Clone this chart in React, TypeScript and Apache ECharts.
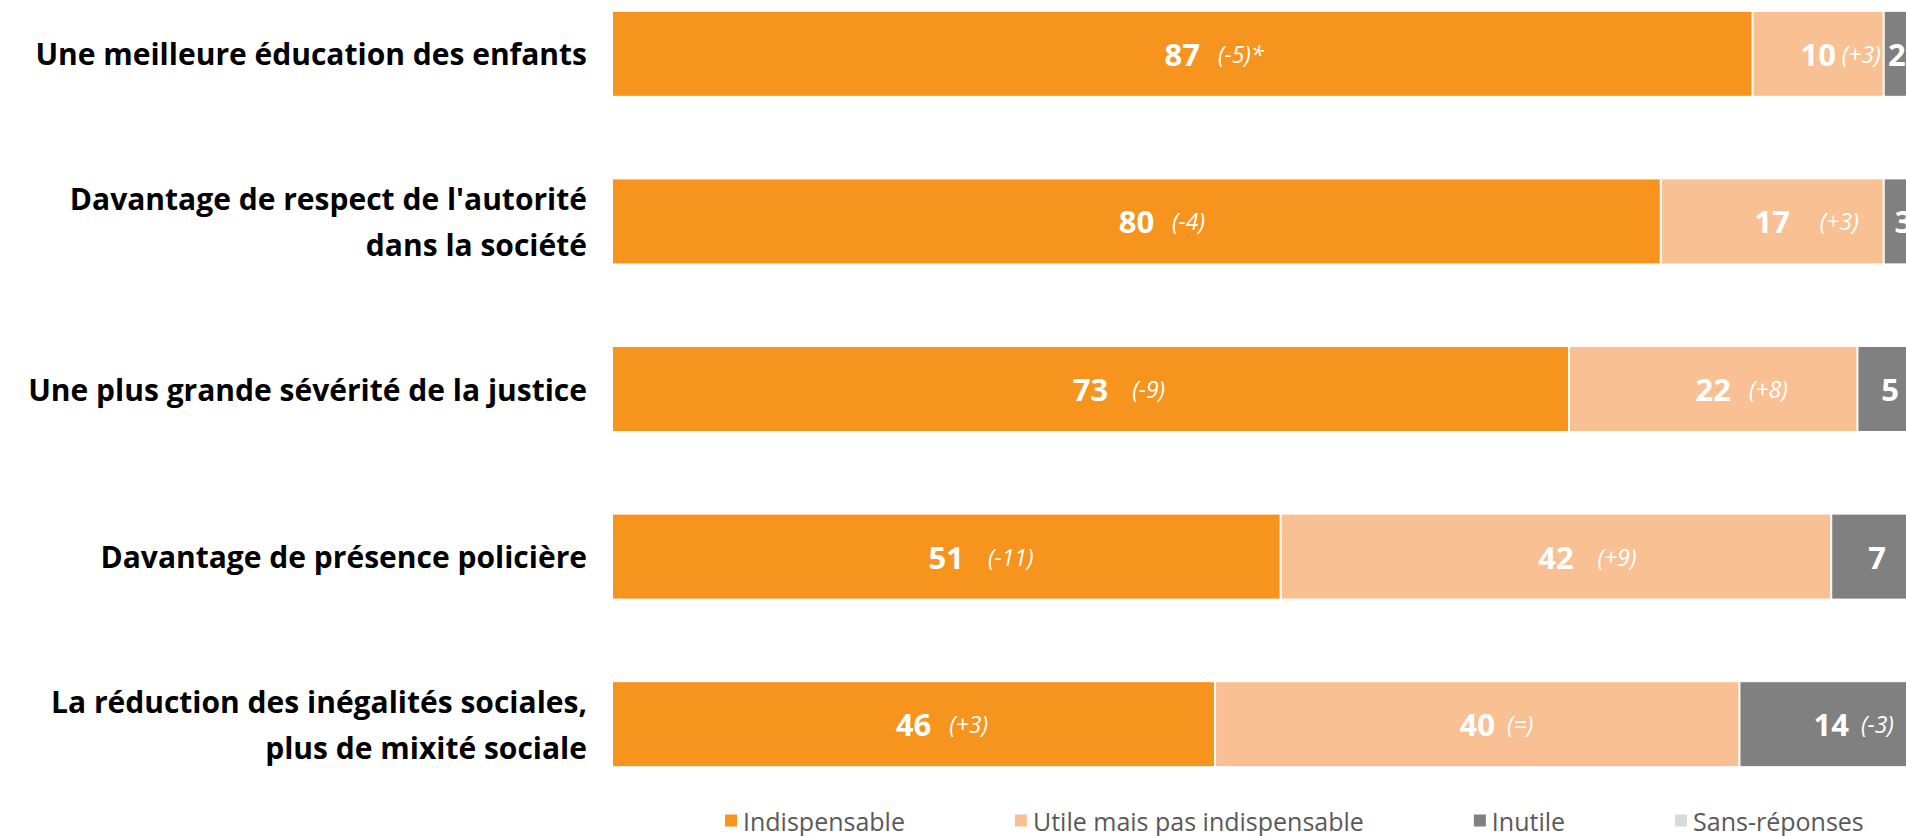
import React, { useEffect, useRef } from "react";
import * as echarts from "echarts";

const categories = [
  "Une meilleure éducation des enfants",
  "Davantage de respect de l'autorité\ndans la société",
  "Une plus grande sévérité de la justice",
  "Davantage de présence policière",
  "La réduction des inégalités sociales,\nplus de mixité sociale",
];
const seriesNames = ["Indispensable", "Utile mais pas indispensable", "Inutile", "Sans-réponses"];
const indispensable = [87, 80, 73, 51, 46];
const utile = [10, 17, 22, 42, 40];
const inutile = [2, 3, 5, 7, 14];
const sansReponses = [1, 0, 0, 0, 0];
const deltaIndispensable = ["(-5)*", "(-4)", "(-9)", "(-11)", "(+3)"];
const deltaUtile = ["(+3)", "(+3)", "(+8)", "(+9)", "(=)"];
const deltaInutile = ["", "", "", "", "(-3)"];

const colors = ["#F7941D", "#F9C193", "#808080", "#D9D9D9"];
const FONT = "'Open Sans', 'Noto Sans', sans-serif";
const W = 80;
// spaces between value and change, per series and row (style only)
const spacing = [
  [3, 3, 4, 4, 3],
  [1, 5, 3, 4, 2],
  [2, 2, 2, 2, 2],
];

// inner chart extends past the right edge and above the top of the visible page
const OFF_TOP = 30;
const OFF_RIGHT = 17;

function makeLabel(deltas: string[], sp: number[]) {
  return {
    show: true,
    position: "inside",
    color: "#fff",
    formatter: (p: any) => {
      const d = deltas[p.dataIndex];
      const s = " ".repeat(sp[p.dataIndex]);
      return d ? `{p| }{v|${p.value}}{d|${s}${d}}` : `{v|${p.value}}`;
    },
    rich: {
      v: { fontSize: 31, fontWeight: "bold", color: "#fff", fontFamily: FONT, align: "left" },
      d: { fontSize: 23, fontStyle: "italic", color: "#fff", fontFamily: FONT, width: W, align: "left" },
      p: { fontSize: 23, width: W, fontFamily: FONT, align: "left" },
    },
  };
}

export default function App() {
  const ref = useRef<HTMLDivElement>(null);
  useEffect(() => {
    if (!ref.current) return;
    const chart = echarts.init(ref.current, undefined, { renderer: "svg" });
    const data = [indispensable, utile, inutile, sansReponses];
    const deltas = [deltaIndispensable, deltaUtile, deltaInutile, null];
    chart.setOption({
      animation: false,
      grid: { left: 612, right: 0, top: 0, bottom: 28, containLabel: false },
      xAxis: { type: "value", min: 0, max: 100, show: false },
      yAxis: {
        type: "category",
        inverse: true,
        data: categories,
        axisLine: { show: false },
        axisTick: { show: false },
        axisLabel: {
          color: "#000",
          fontWeight: "bold",
          fontSize: 30,
          fontFamily: FONT,
          margin: 25,
          lineHeight: 46,
          align: "right",
        },
      },
      legend: {
        data: seriesNames,
        left: 718,
        top: 803 + OFF_TOP,
        icon: "rect",
        itemWidth: 14,
        itemHeight: 14,
        itemGap: 108,
        textStyle: { fontSize: 25, color: "#595959", fontFamily: FONT },
      },
      series: seriesNames.map((name, i) => ({
        name,
        type: "bar",
        stack: "total",
        barWidth: 86,
        data: data[i],
        itemStyle: { color: colors[i], borderColor: "#fff", borderWidth: 1 },
        label: deltas[i] ? makeLabel(deltas[i] as string[], spacing[i]) : { show: false },
      })),
    });
    return () => chart.dispose();
  }, []);
  return (
    <div style={{ position: "fixed", left: 0, top: 0, width: 1906, height: 836, overflow: "hidden", background: "#fff" }}>
      <div
        ref={ref}
        style={{ position: "absolute", left: 0, top: -OFF_TOP, width: 1906 + OFF_RIGHT, height: 836 + OFF_TOP }}
      />
    </div>
  );
}
